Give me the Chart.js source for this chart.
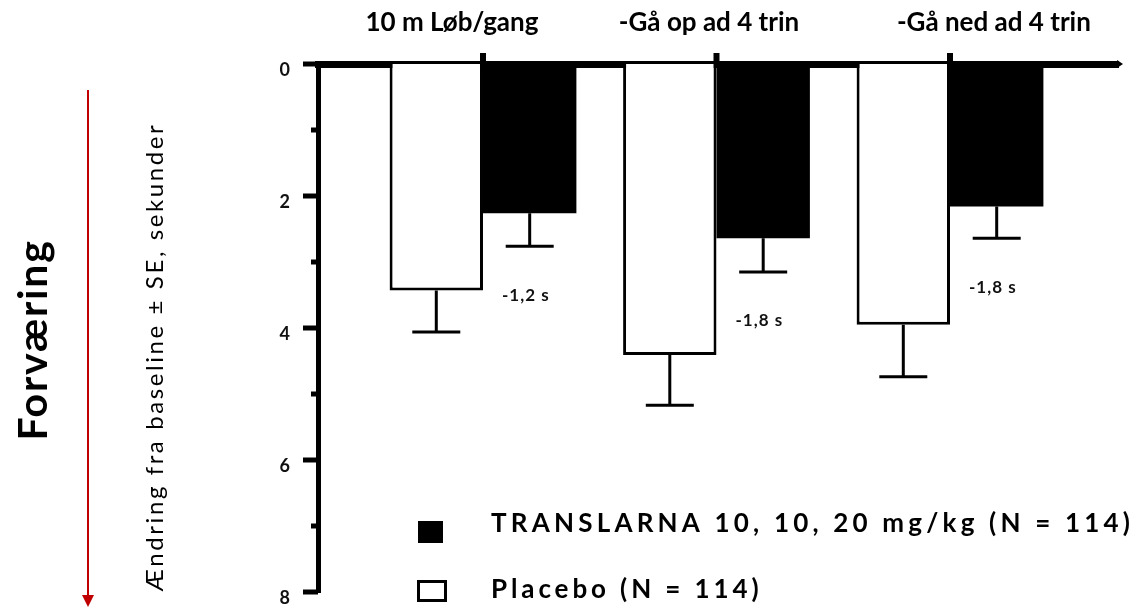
<!DOCTYPE html>
<html>
<head>
<meta charset="utf-8">
<script src="https://cdn.jsdelivr.net/npm/chart.js@4.4.1/dist/chart.umd.min.js"></script>
<style>
  body { margin: 0; background: #fff; }
</style>
</head>
<body>
<canvas id="graf" width="1133" height="607"></canvas>
<script>
// données (secondes, changement depuis baseline)
const categories = ["10 m Løb/gang", "-Gå op ad 4 trin", "-Gå ned ad 4 trin"];
const placebo = [3.43, 4.41, 3.95];
const placeboSE = [0.63, 0.76, 0.79];
const translarna = [2.26, 2.64, 2.16];
const translarnaSE = [0.50, 0.51, 0.48];
const differences = ["-1,2 s", "-1,8 s", "-1,8 s"];
const seriesLabels = ["Placebo (N = 114)", "TRANSLARNA 10, 10, 20 mg/kg (N = 114)"];

// décalage des titres de catégorie par rapport au centre du groupe
const labelShift = [-0.133, -0.032, 0.188];

const police = "Lato, 'Open Sans', sans-serif";

/*
    ********************************
    plugin : barres d'erreur, ticks,
    légende et textes latéraux
    ********************************
*/
const decor = {
  id: "decor",
  afterDatasetsDraw(chart) {
    const ctx = chart.ctx;
    const x = chart.scales.x;
    const y = chart.scales.y;
    const area = chart.chartArea;

    ctx.save();
    ctx.strokeStyle = "#000";
    ctx.lineCap = "butt";

    // barres d'erreur
    const series = [[placebo, placeboSE], [translarna, translarnaSE]];
    series.forEach(([vals, se], d) => {
      chart.getDatasetMeta(d).data.forEach((bar, i) => {
        const yEnd = y.getPixelForValue(vals[i] + se[i]);
        ctx.lineWidth = 3;
        ctx.beginPath();
        ctx.moveTo(bar.x, bar.y);
        ctx.lineTo(bar.x, yEnd);
        ctx.moveTo(bar.x - 24, yEnd);
        ctx.lineTo(bar.x + 24, yEnd);
        ctx.stroke();
      });
    });

    // ticks de l'axe y (majeurs et mineurs)
    for (let v = 0; v <= 8; v++) {
      const py = y.getPixelForValue(v);
      ctx.lineWidth = 5;
      ctx.beginPath();
      ctx.moveTo(v % 2 === 0 ? area.left - 15 : area.left - 7, py);
      ctx.lineTo(area.left, py);
      ctx.stroke();
    }

    // ticks de l'axe du haut, au centre des groupes
    categories.forEach((c, i) => {
      const px = x.getPixelForValue(i + 1);
      ctx.lineWidth = 6;
      ctx.beginPath();
      ctx.moveTo(px, area.top);
      ctx.lineTo(px, area.top - 11);
      ctx.stroke();
    });

    // pointe de l'axe du haut
    ctx.fillStyle = "#000";
    ctx.beginPath();
    ctx.moveTo(area.right - 1, area.top - 4);
    ctx.lineTo(area.right + 5, area.top);
    ctx.lineTo(area.right - 1, area.top + 4);
    ctx.fill();

    // différences sous les barres Translarna
    ctx.fillStyle = "#111";
    ctx.font = "bold 17px " + police;
    ctx.textBaseline = "middle";
    ctx.textAlign = "left";
    ctx.letterSpacing = "1px";
    chart.getDatasetMeta(1).data.forEach((bar, i) => {
      const yEnd = y.getPixelForValue(translarna[i] + translarnaSE[i]);
      ctx.fillText(differences[i], bar.x - bar.width / 2 + 19, yEnd + 49);
    });

    // légende
    ctx.fillStyle = "#000";
    ctx.fillRect(418, 521, 25, 22);
    ctx.lineWidth = 3;
    ctx.strokeRect(418.5, 581.5, 27, 19);
    ctx.font = "bold 26px " + police;
    ctx.textBaseline = "alphabetic";
    ctx.letterSpacing = "4.2px";
    ctx.fillText(seriesLabels[1], 491, 532);
    ctx.letterSpacing = "3.9px";
    ctx.fillText(seriesLabels[0], 491, 598);

    // titre de l'axe y
    ctx.save();
    ctx.translate(163, 357);
    ctx.rotate(-Math.PI / 2);
    ctx.textAlign = "center";
    ctx.font = "24px " + police;
    ctx.letterSpacing = "2.6px";
    ctx.fillStyle = "#000";
    ctx.fillText("Ændring fra baseline ± SE, sekunder", 0, 0);
    ctx.restore();

    // Forværing
    ctx.save();
    ctx.translate(47, 340);
    ctx.rotate(-Math.PI / 2);
    ctx.textAlign = "center";
    ctx.font = "bold 41px " + police;
    ctx.letterSpacing = "1.8px";
    ctx.fillStyle = "#000";
    ctx.fillText("Forværing", 0, 0);
    ctx.restore();
    ctx.letterSpacing = "0px";

    // flèche rouge
    ctx.strokeStyle = "#c00000";
    ctx.fillStyle = "#c00000";
    ctx.lineWidth = 2;
    ctx.beginPath();
    ctx.moveTo(88, 90);
    ctx.lineTo(88, 596);
    ctx.stroke();
    ctx.beginPath();
    ctx.moveTo(82, 595);
    ctx.lineTo(94, 595);
    ctx.lineTo(88, 607);
    ctx.fill();

    ctx.restore();
  }
};

const data = {
  datasets: [
    {
      label: seriesLabels[0],
      data: categories.map((c, i) => ({ x: i + 1, y: placebo[i] })),
      backgroundColor: "#fff",
      borderColor: "#000",
      borderWidth: 3,
      categoryPercentage: 0.8,
      barPercentage: 1.0
    },
    {
      label: seriesLabels[1],
      data: categories.map((c, i) => ({ x: i + 1, y: translarna[i] })),
      backgroundColor: "#000",
      borderColor: "#000",
      borderWidth: 0,
      categoryPercentage: 0.8,
      barPercentage: 1.0
    }
  ]
};

const config = {
  type: "bar",
  data: data,
  plugins: [decor],
  options: {
    responsive: false,
    animation: false,
    layout: { padding: { left: 0, top: 0, right: 15, bottom: 15 } },
    plugins: {
      legend: { display: false },
      tooltip: { enabled: false }
    },
    scales: {
      x: {
        type: "linear",
        position: "top",
        offset: false,
        min: 0.2934,
        max: 3.7195,
        afterFit(s) {
          s.height = 64;
          s.paddingLeft = 0;
          s.paddingRight = 0;
        },
        afterBuildTicks(s) {
          s.ticks = categories.map((c, i) => ({ value: i + 1 + labelShift[i] }));
        },
        grid: { display: false, drawTicks: false },
        border: { display: true, color: "#000", width: 7 },
        ticks: {
          autoSkip: false,
          maxRotation: 0,
          padding: 26,
          color: "#000",
          font: { family: police, weight: "bold", size: 26 },
          callback: (v, i) => categories[i]
        }
      },
      y: {
        type: "linear",
        reverse: true,
        min: 0,
        max: 8,
        afterFit(s) {
          s.width = 318;
          s.paddingTop = 0;
          s.paddingBottom = 0;
        },
        grid: { display: false, drawTicks: false },
        border: { display: true, color: "#000", width: 5 },
        ticks: {
          stepSize: 1,
          padding: 28,
          labelOffset: 6,
          color: "#111",
          font: { family: police, weight: "bold", size: 18 },
          callback: v => (v % 2 === 0 ? v : "")
        }
      }
    }
  }
};

new Chart(document.querySelector("#graf"), config);
</script>
</body>
</html>
